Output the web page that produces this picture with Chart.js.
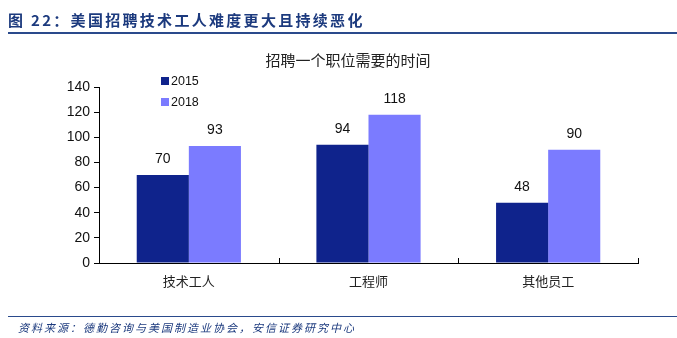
<!DOCTYPE html>
<html>
<head>
<meta charset="utf-8">
<script src="https://cdn.jsdelivr.net/npm/chart.js@4"></script>
<style>
  html, body { margin: 0; padding: 0; background: #fff; }
  #wrap { position: relative; width: 677px; height: 338px; overflow: hidden; }
  #myChart { position: absolute; left: 0; top: 0; }
  .head { position: absolute; left: 8px; top: 9px; font: bold 15px "Noto Sans CJK SC", sans-serif; color: #1c3a7e; letter-spacing: 2.3px; }
  .headline { position: absolute; left: 8px; right: 0; top: 32px; height: 2px; background: #2a4a8c; }
  .footline { position: absolute; left: 8px; right: 0; top: 316px; height: 1px; background: #2a4a8c; }
  .foot { position: absolute; left: 18px; top: 319px; font: italic 11px "Noto Sans CJK SC", sans-serif; color: #1c3a7e; letter-spacing: 2px; }
</style>
</head>
<body>
<div id="wrap">
  <canvas id="myChart" width="677" height="338"></canvas>
  <div class="head">图 22：美国招聘技术工人难度更大且持续恶化</div>
  <div class="headline"></div>
  <div class="footline"></div>
  <div class="foot">资料来源：德勤咨询与美国制造业协会，安信证券研究中心</div>
</div>
<script>
let categories = ['技术工人', '工程师', '其他员工'];
let series_names = ['2015', '2018'];
let values_2015 = [70, 94, 48];
let values_2018 = [93, 118, 90];
let y_ticks = [0, 20, 40, 60, 80, 100, 120, 140];
let chart_title = '招聘一个职位需要的时间';

let color_2015 = '#0f238c';
let color_2018 = '#7b7bff';

// draws the numbers over the bars, the legend, title and the x tick marks
const extras = {
  id: 'extras',
  afterDraw (chart) {
    let ctx = chart.ctx;
    ctx.save();

    // values above bars
    ctx.fillStyle = '#111';
    ctx.font = '14px "Liberation Sans", Arial, sans-serif';
    ctx.textAlign = 'center';
    ctx.textBaseline = 'bottom';
    chart.data.datasets.forEach((ds, i) => {
      chart.getDatasetMeta(i).data.forEach((bar, j) => {
        ctx.fillText(ds.data[j], bar.x, bar.y - 9);
      });
    });

    // title
    ctx.font = '15px "Noto Sans CJK SC", sans-serif';
    ctx.fillStyle = '#222';
    ctx.textBaseline = 'middle';
    ctx.fillText(chart_title, 348, 60);

    // legend
    ctx.font = '12.5px "Liberation Sans", Arial, sans-serif';
    ctx.textAlign = 'left';
    chart.data.datasets.forEach((ds, i) => {
      let y = 81 + i * 21;
      ctx.fillStyle = ds.backgroundColor;
      ctx.fillRect(161, y - 4, 8, 8);
      ctx.fillStyle = '#111';
      ctx.fillText(ds.label, 171, y + 1);
    });

    // x axis tick marks at category borders, pointing up
    let xs = chart.scales.x;
    let base = chart.chartArea.bottom;
    ctx.strokeStyle = '#000';
    ctx.lineWidth = 1;
    for (let i = 0; i <= categories.length; i++) {
      let px = Math.round(xs.getPixelForValue(i - 0.5)) + 0.5;
      ctx.beginPath();
      ctx.moveTo(px, base);
      ctx.lineTo(px, base - 5);
      ctx.stroke();
    }
    ctx.restore();
  }
};

const config = {
  type: 'bar',
  data: {
    labels: categories,
    datasets: [
      { label: series_names[0], data: values_2015, backgroundColor: color_2015, borderWidth: 0 },
      { label: series_names[1], data: values_2018, backgroundColor: color_2018, borderWidth: 0 }
    ]
  },
  options: {
    responsive: false,
    animation: false,
    layout: { padding: { top: 87, left: 0, right: 39, bottom: 45 } },
    categoryPercentage: 0.58,
    barPercentage: 1.0,
    plugins: {
      legend: { display: false },
      title: { display: false },
      tooltip: { enabled: false }
    },
    scales: {
      x: {
        grid: { display: false },
        border: { display: true, color: '#000', width: 1 },
        ticks: {
          color: '#222',
          font: { family: '"Noto Sans CJK SC", sans-serif', size: 13 },
          padding: 2
        },
        afterFit (scale) { scale.height = 30; }
      },
      y: {
        min: 0,
        max: 140,
        afterBuildTicks (scale) { scale.ticks = y_ticks.map(v => ({ value: v })); },
        grid: { drawOnChartArea: false, tickLength: 5, color: '#000' },
        border: { display: true, color: '#000', width: 1 },
        ticks: {
          color: '#111',
          font: { family: '"Liberation Sans", Arial, sans-serif', size: 14 },
          padding: 4
        },
        afterFit (scale) { scale.width = 99; }
      }
    }
  },
  plugins: [extras]
};

let myChart = new Chart(document.getElementById('myChart'), config);
</script>
</body>
</html>
